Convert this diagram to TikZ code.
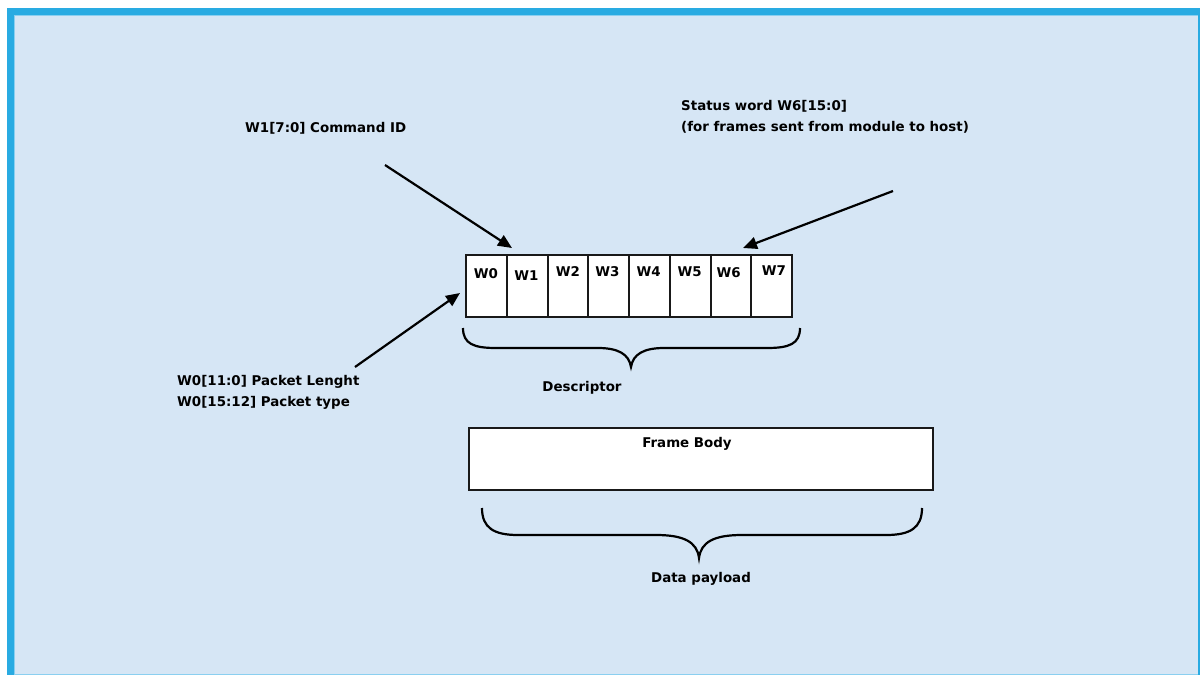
\documentclass[tikz,border=0pt]{standalone}
\usepackage{fontspec}
\setmainfont{DejaVu Sans}
\usetikzlibrary{arrows.meta}
\definecolor{bgblue}{HTML}{D6E6F5}
\definecolor{bdblue}{HTML}{29ABE2}
\definecolor{bdlight}{HTML}{8ACFF0}
\tikzset{
  txt/.style={font=\fontsize{13.4}{21}\selectfont\bfseries, inner sep=0pt, text=black},
  cell/.style={draw=black!90, fill=white, line width=2.2pt, minimum width=40.75pt, minimum height=62pt, inner sep=0pt, anchor=north west},
  bigbox/.style={draw=black!90, fill=white, line width=2.2pt, minimum width=464pt, minimum height=62pt, inner sep=0pt, anchor=north west},
  arr/.style={line width=2.2pt, -{Triangle[length=14pt, width=12pt]}, black},
  brc/.style={line width=2.2pt, black}
}
\begin{document}
\begin{tikzpicture}[x=1pt, y=-1pt]
\useasboundingbox (0,0) rectangle (1200,675);
\fill[white] (0,0) rectangle (1200,675);
\fill[bdblue] (7,8) rectangle (1200,675);
\fill[bgblue] (14,15) rectangle (1198,674);
\draw[bdlight, line width=1pt] (14.5,675) -- (14.5,15.5) -- (1198,15.5);
\draw[bdlight, line width=1pt] (14,674.5) -- (1198,674.5);

% descriptor cells
\foreach \i in {0,...,7} {
  \node[cell] (w\i) at ({465+40.75*\i},254) {};
}
\node[txt] (l0) at (486,274) {W0};
\node[txt] (l1) at (526.3,276) {W1};
\node[txt] (l2) at (568,272) {W2};
\node[txt] (l3) at (607.3,272) {W3};
\node[txt] (l4) at (648.7,272) {W4};
\node[txt] (l5) at (689.7,272) {W5};
\node[txt] (l6) at (728.7,273) {W6};
\node[txt] (l7) at (774,271) {W7};

% frame body
\node[bigbox] (fb) at (468,427) {};
\node[txt] (fbl) at (687,444) {Frame Body};

% labels
\node[txt, anchor=west] (cmd) at (245,128) {W1[7:0] Command ID};
\node[txt, anchor=west, align=left] (stat) at (681,117) {Status word W6[15:0]\\(for frames sent from module to host)};
\node[txt, anchor=west, align=left] (plen) at (177,392) {W0[11:0] Packet Lenght\\W0[15:12] Packet type};
\node[txt] (desc) at (582,388) {Descriptor};
\node[txt] (dp) at (701,579) {Data payload};

% arrows
\coordinate (a1s) at (385,165);
\coordinate (a1e) at (512,248);
\coordinate (a2s) at (893,191);
\coordinate (a2e) at (743,248);
\coordinate (a3s) at (355,367);
\coordinate (a3e) at (460,293);
\draw[arr] (a1s) -- (a1e);
\draw[arr] (a2s) -- (a2e);
\draw[arr] (a3s) -- (a3e);

% braces
\draw[brc] (463,328) .. controls (463,344) and (474,348) .. (496,348)
  -- (598,348) .. controls (618,348) and (629,354) .. (631,367)
  .. controls (633,354) and (644,348) .. (664,348)
  -- (767,348) .. controls (789,348) and (800,344) .. (800,328);
\draw[brc] (482,508) .. controls (482,528) and (494,535) .. (518,535)
  -- (656,535) .. controls (684,535) and (697,542) .. (699,558)
  .. controls (701,542) and (714,535) .. (742,535)
  -- (886,535) .. controls (910,535) and (922,528) .. (922,508);
\end{tikzpicture}
\end{document}
